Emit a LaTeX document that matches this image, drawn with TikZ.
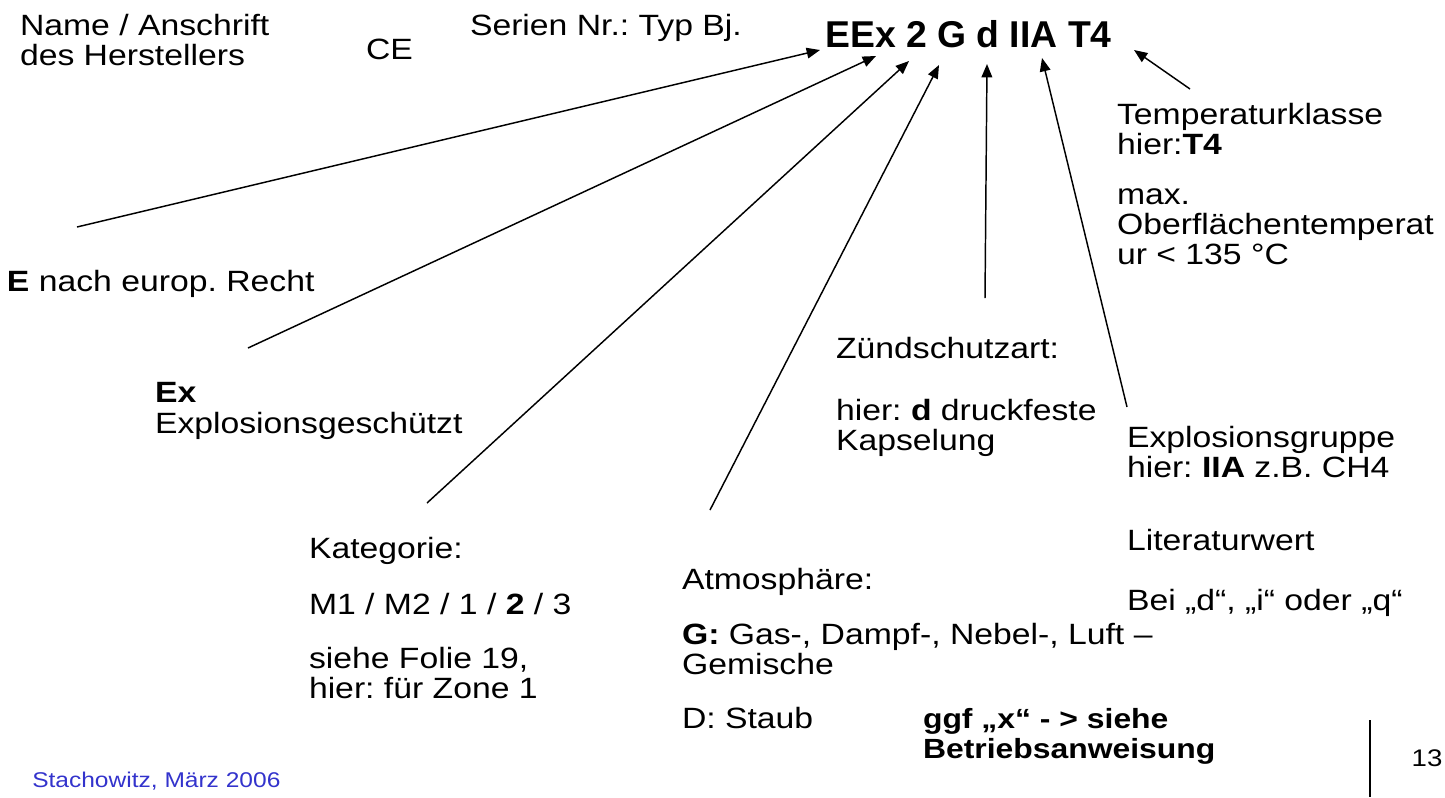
\documentclass[tikz,border=0pt]{standalone}
\usepackage{fontspec}
\setmainfont{Liberation Sans}[FakeStretch=1.15]
\newfontfamily\titlefont{Liberation Sans}
\frenchspacing
\usetikzlibrary{arrows.meta}
\definecolor{authorblue}{RGB}{51,51,204}
\tikzset{
  txt/.style={anchor=base west, inner sep=0pt, outer sep=0pt, font=\fontsize{22}{22.5}\selectfont},
  boldtxt/.style={txt, font=\fontsize{20.8}{22.5}\selectfont\bfseries},
  small/.style={anchor=base west, inner sep=0pt, font=\fontsize{16}{17}\selectfont},
  title/.style={anchor=base west, inner sep=0pt, font=\titlefont\fontsize{28}{30}\selectfont\bfseries},
  pointer/.style={draw=black, line width=1.1pt, -{Triangle[length=10pt,width=8pt]}},
}
\begin{document}
\begin{tikzpicture}[x=0.75pt,y=-0.75pt]
\useasboundingbox (0,0) rectangle (1445,797);
% top row
\node[txt] (name1) at (20,35) {Name / Anschrift};
\node[txt] (name2) at (20,65) {des Herstellers};
\node[txt] (ce) at (366,59) {CE};
\node[txt] (serien) at (470,35) {Serien Nr.: Typ Bj.};
\node[title] (code) at (825,47) {EEx 2 G d IIA T4};
% right column
\node[txt] (temp1) at (1117,124) {Temperaturklasse};
\node[txt] (temp2) at (1117,154) {hier:\textbf{T4}};
\node[txt] (max1) at (1117,204) {max.};
\node[txt] (max2) at (1117,234) {Oberflächentemperat};
\node[txt] (max3) at (1117,264) {ur < 135 °C};
\node[txt] (grp1) at (1127,447) {Explosionsgruppe};
\node[txt] (grp2) at (1127,477) {hier: \textbf{IIA} z.B. CH4};
\node[txt] (lit) at (1127,550) {Literaturwert};
\node[txt] (bei) at (1127,610) {Bei „d“, „i“ oder „q“};
% left
\node[txt] (eur) at (7,291) {\textbf{E} nach europ. Recht};
\node[txt] (ex1) at (155,402) {\textbf{Ex}};
\node[txt] (ex2) at (155,433) {Explosionsgeschützt};
% middle
\node[txt] (zs1) at (836,358) {Zündschutzart:};
\node[txt] (zs2) at (836,420) {hier: \textbf{d} druckfeste};
\node[txt] (zs3) at (836,450) {Kapselung};
\node[txt] (kat1) at (309,558) {Kategorie:};
\node[txt] (kat2) at (309,614) {M1 / M2 / 1 / \textbf{2} / 3};
\node[txt] (kat3) at (309,668) {siehe Folie 19,};
\node[txt] (kat4) at (309,698) {hier: für Zone 1};
\node[txt] (atm1) at (682,589) {Atmosphäre:};
\node[txt] (atm2) at (682,644) {\textbf{G:} Gas-, Dampf-, Nebel-, Luft –};
\node[txt] (atm3) at (682,674) {Gemische};
\node[txt] (atm4) at (682,728) {D: Staub};
\node[boldtxt] (ggf1) at (923,728) {ggf „x“ - > siehe};
\node[boldtxt] (ggf2) at (923,758) {Betriebsanweisung};
% footer
\node[small, text=authorblue] (author) at (32,787) {Stachowitz, März 2006};
\node[small, anchor=center, font=\fontsize{18}{19}\selectfont] (page) at (1427,758) {13};
\coordinate (sepTop) at (1370,720);
\coordinate (sepBot) at (1370,797);
\draw[line width=0.8pt] (sepTop) -- (sepBot);
% arrow ends
\coordinate (tE) at (77,227);   \coordinate (hE) at (820,50);
\coordinate (tEx) at (248,348); \coordinate (hEx) at (876,56);
\coordinate (tK) at (427,503);  \coordinate (hK) at (909,61);
\coordinate (tG) at (710,510);  \coordinate (hG) at (939,65);
\coordinate (tD) at (985,298);  \coordinate (hD) at (987,64);
\coordinate (tI) at (1127,407); \coordinate (hI) at (1042,58);
\coordinate (tT) at (1190,89);  \coordinate (hT) at (1134,50);
\draw[pointer] (tE) -- (hE);
\draw[pointer] (tEx) -- (hEx);
\draw[pointer] (tK) -- (hK);
\draw[pointer] (tG) -- (hG);
\draw[pointer] (tD) -- (hD);
\draw[pointer] (tI) -- (hI);
\draw[pointer] (tT) -- (hT);
\end{tikzpicture}
\end{document}
